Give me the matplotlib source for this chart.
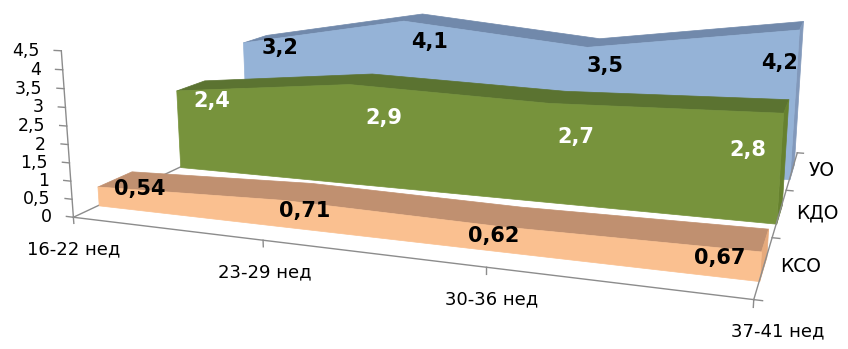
import matplotlib
matplotlib.use('Agg')
import matplotlib.pyplot as plt
from mpl_toolkits.mplot3d import proj3d
from mpl_toolkits.mplot3d.art3d import Poly3DCollection

categories = ['16-22 нед', '23-29 нед', '30-36 нед', '37-41 нед']
series_names = ['КСО', 'КДО', 'УО']
kso = [0.54, 0.71, 0.62, 0.67]
kdo = [2.4, 2.9, 2.7, 2.8]
uo = [3.2, 4.1, 3.5, 4.2]
value_ticks = [0, 0.5, 1, 1.5, 2, 2.5, 3, 3.5, 4, 4.5]

series_values = [kso, kdo, uo]
# front face, top face, end face
face_colors = [('#fac090', '#c09070', '#e6aa7c'),
               ('#77933c', '#5b7331', '#66812f'),
               ('#95b3d7', '#7189ab', '#8299bb')]
label_colors = ['black', 'white', 'black']
# pixel nudges of the value labels from their points
label_offsets = [[(42, -3), (22, -11), (-8, -10), (-41, -7)],
                 [(36, -11), (35, -34), (27, -34), (-35, -37)],
                 [(37, -6), (26, -21), (18, -19), (-19, -33)]]
cat_dx = [0, 2, 5, 24]
axis_color = '#8c8c8c'


def fmt(v):
    return f'{v:g}'.replace('.', ',')


fig = plt.figure(figsize=(8.48, 3.49), dpi=100)
side = 452
ax = fig.add_axes([(277 - 0.5135 * side) / 848, (216 - 0.5135 * side) / 349,
                   side / 848, side / 349],
                  projection='3d', computed_zorder=False)
ax.set_xlim(-1.667, 3.333)
ax.set_ylim(-1.851, 3.149)
ax.set_zlim(-0.48, 4.52)
ax.set_box_aspect((0.8708, 0.6783, 0.1533), zoom=2.92)
ax.set_proj_type('persp', focal_length=0.5)
ax.view_init(elev=12.9, azim=-63.5, roll=1.9)
ax.set_axis_off()


def line3d(xv, yv, zv, zorder):
    ln, = ax.plot(xv, yv, zv, color=axis_color, lw=1, zorder=zorder)
    ln.set_clip_on(False)


n = len(categories)
xs = list(range(n))
last = xs[-1]
depth = len(series_names)
front_gap, back_gap = 0.27, 0.66

# floor edges, axis lines and ticks
line3d([0, 0], [0, depth], [0, 0], 0.5)
line3d([0, last], [0, 0], [0, 0], 4)
line3d([0, 0], [0, 0], [0, value_ticks[-1]], 4)
line3d([last, last], [0, depth], [0, 0], 4)
for v in value_ticks:
    line3d([0, -0.04], [0, 0], [v, v], 4)
for i in xs:
    line3d([i, i], [0, 0], [0, -0.17], 4)
for k in range(depth + 1):
    line3d([last, last + 0.03], [k, k], [0, 0], 4)

# ribbons, back to front
for k in reversed(range(depth)):
    vals = series_values[k]
    yf, yb = k + front_gap, k + back_gap
    c_front, c_top, c_end = face_colors[k]
    top = [(x, yf, v) for x, v in zip(xs, vals)] + \
          [(x, yb, v) for x, v in reversed(list(zip(xs, vals)))]
    end = [(last, yf, 0), (last, yb, 0), (last, yb, vals[-1]), (last, yf, vals[-1])]
    front = [(x, yf, v) for x, v in zip(xs, vals)] + [(last, yf, 0), (0, yf, 0)]
    base = 1 + (depth - 1 - k)
    for verts, col, dz in [(top, c_top, 0), (end, c_end, 0.1), (front, c_front, 0.2)]:
        poly = Poly3DCollection([verts], facecolor=col, edgecolor=col, linewidths=0.5)
        poly.set_zorder(base + dz)
        poly.set_clip_on(False)
        ax.add_collection3d(poly)

# texts go on as flat annotations at the projected 3D points
fig.canvas.draw()
M = ax.get_proj()


def label(x, y, z, s, dx, dy, **kw):
    u, v, _ = proj3d.proj_transform(x, y, z, M)
    ax.annotate(s, (u, v), xytext=(dx, dy), textcoords='offset pixels',
                annotation_clip=False, **kw)


for v in value_ticks:
    label(0, 0, v, fmt(v), -22, 0, ha='right', va='center', fontsize=12.5, zorder=6)
for i, cat in enumerate(categories):
    label(i, 0, 0, cat, cat_dx[i], -32, ha='center', va='center', fontsize=13, zorder=6)
for k, name in enumerate(series_names):
    label(last, k + 0.5, 0, name, 17, 0, ha='left', va='center', fontsize=13.5, zorder=6)
for k in range(depth):
    base = 1 + (depth - 1 - k)
    for i, v in enumerate(series_values[k]):
        dx, dy = label_offsets[k][i]
        label(i, k + front_gap, v, fmt(v), dx, dy, ha='center', va='center',
              fontsize=15, fontweight='bold', color=label_colors[k], zorder=base + 0.5)

fig.savefig('out.png', dpi=100)
